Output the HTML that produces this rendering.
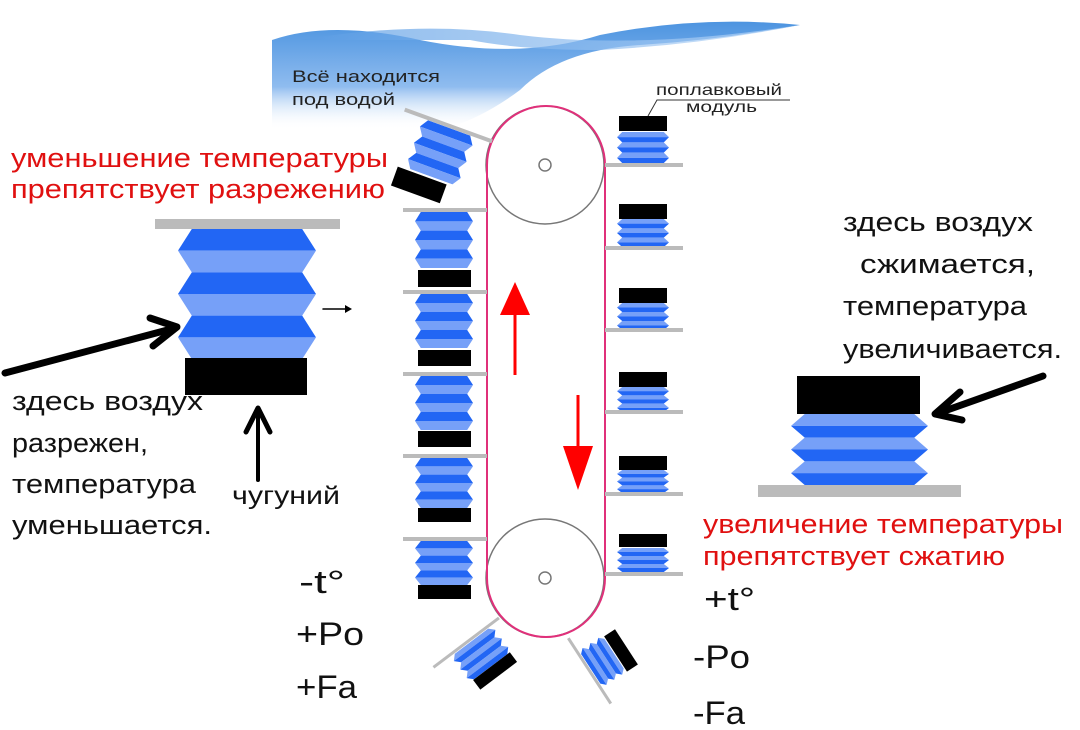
<!DOCTYPE html>
<html><head><meta charset="utf-8"><style>
body{margin:0;background:#fff}
svg{display:block}
text{font-family:"Liberation Sans","DejaVu Sans",sans-serif}
</style></head><body>
<svg width="1080" height="730" viewBox="0 0 1080 730" xmlns="http://www.w3.org/2000/svg">
<defs>
<linearGradient id="w" x1="0" y1="0" x2="0" y2="1">
<stop offset="0" stop-color="#4d94e0"/><stop offset="0.6" stop-color="#8fbcef"/><stop offset="1" stop-color="#ffffff" stop-opacity="0"/>
</linearGradient>
<linearGradient id="w2" x1="0" y1="0" x2="1" y2="0">
<stop offset="0" stop-color="#5a9ce4"/><stop offset="1" stop-color="#b8d6f7"/>
</linearGradient>
<symbol id="bx" viewBox="0 0 100 90" preserveAspectRatio="none">
<polygon points="10,0 90,0 100,15 0,15" fill="#2266f4"/><polygon points="0,15 100,15 90,30 10,30" fill="#76a0f8"/>
<polygon points="10,30 90,30 100,45 0,45" fill="#2266f4"/><polygon points="0,45 100,45 90,60 10,60" fill="#76a0f8"/>
<polygon points="10,60 90,60 100,75 0,75" fill="#2266f4"/><polygon points="0,75 100,75 90,90 10,90" fill="#76a0f8"/>
</symbol>
<symbol id="bc" viewBox="0 0 100 90" preserveAspectRatio="none">
<polygon points="10,0 90,0 100,15 0,15" fill="#76a0f8"/><polygon points="0,15 100,15 90,30 10,30" fill="#2266f4"/>
<polygon points="10,30 90,30 100,45 0,45" fill="#76a0f8"/><polygon points="0,45 100,45 90,60 10,60" fill="#2266f4"/>
<polygon points="10,60 90,60 100,75 0,75" fill="#76a0f8"/><polygon points="0,75 100,75 90,90 10,90" fill="#2266f4"/>
</symbol>
</defs>

<!-- water -->
<path d="M272,40 Q330,20 420,40 Q520,60 600,35 Q700,15 800,25 Q720,40 640,45 Q560,50 520,90 Q480,120 440,130 L272,130 Z" fill="url(#w)"/>
<path d="M300,40 Q420,20 520,35 Q640,50 800,25 Q700,45 600,50 Q520,50 470,40 Z" fill="url(#w2)" opacity="0.7"/>
<text x="292" y="82" font-size="17" fill="#222" textLength="148" lengthAdjust="spacingAndGlyphs">Всё находится</text>
<text x="292" y="105" font-size="17" fill="#222" textLength="103" lengthAdjust="spacingAndGlyphs">под водой</text>
<text x="656" y="95" font-size="16" fill="#222" textLength="126" lengthAdjust="spacingAndGlyphs">поплавковый</text>
<text x="686" y="112" font-size="16" fill="#222" textLength="71" lengthAdjust="spacingAndGlyphs">модуль</text>
<polyline points="648,116 657,100 790,100" fill="none" stroke="#333" stroke-width="1"/>

<!-- chain -->
<circle cx="545" cy="165" r="59" fill="none" stroke="#777" stroke-width="1.5"/>
<circle cx="545" cy="578" r="59" fill="none" stroke="#777" stroke-width="1.5"/>
<circle cx="545" cy="165" r="6" fill="#fff" stroke="#777" stroke-width="1.5"/>
<circle cx="545" cy="578" r="6" fill="#fff" stroke="#777" stroke-width="1.5"/>
<path d="M487,165 A59,59 0 0 1 605,165 L605,578 A59,59 0 0 1 487,578 Z" fill="none" stroke="#e0307a" stroke-width="2"/>

<!-- red arrows -->
<line x1="515" y1="312" x2="515" y2="375" stroke="#f00" stroke-width="3"/>
<polygon points="515,282 500,315 530,315" fill="#f00"/>
<line x1="578" y1="395" x2="578" y2="450" stroke="#f00" stroke-width="3"/>
<polygon points="578,490 563,446 593,446" fill="#f00"/>

<!-- left column modules -->
<g fill="#000">
<line x1="403" y1="210" x2="487" y2="210" stroke="#bbb" stroke-width="4"/>
<use href="#bx" x="415" y="212" width="58" height="56"/><rect x="418" y="270" width="53" height="17"/>
<line x1="403" y1="292" x2="487" y2="292" stroke="#bbb" stroke-width="4"/>
<use href="#bx" x="415" y="294" width="58" height="54"/><rect x="418" y="350" width="53" height="16"/>
<line x1="403" y1="374" x2="487" y2="374" stroke="#bbb" stroke-width="4"/>
<use href="#bx" x="415" y="376" width="58" height="54"/><rect x="418" y="431" width="53" height="16"/>
<line x1="403" y1="456" x2="487" y2="456" stroke="#bbb" stroke-width="4"/>
<use href="#bx" x="415" y="458" width="58" height="50"/><rect x="418" y="508" width="53" height="14"/>
<line x1="403" y1="539" x2="487" y2="539" stroke="#bbb" stroke-width="4"/>
<use href="#bx" x="415" y="541" width="58" height="44"/><rect x="418" y="585" width="53" height="14"/>
</g>

<!-- right column modules -->
<g fill="#000">
<rect x="619" y="116" width="48" height="15"/><use href="#bc" x="617" y="132" width="52" height="31"/>
<line x1="605" y1="165" x2="683" y2="165" stroke="#bbb" stroke-width="4"/>
<rect x="619" y="204" width="48" height="15"/><use href="#bc" x="617" y="219" width="52" height="28"/>
<line x1="605" y1="248" x2="683" y2="248" stroke="#bbb" stroke-width="4"/>
<rect x="619" y="288" width="48" height="15"/><use href="#bc" x="617" y="303" width="52" height="27"/>
<line x1="605" y1="330" x2="683" y2="330" stroke="#bbb" stroke-width="4"/>
<rect x="619" y="372" width="48" height="15"/><use href="#bc" x="617" y="387" width="52" height="25"/>
<line x1="605" y1="412" x2="683" y2="412" stroke="#bbb" stroke-width="4"/>
<rect x="619" y="456" width="48" height="14"/><use href="#bc" x="617" y="470" width="52" height="23"/>
<line x1="605" y1="494" x2="683" y2="494" stroke="#bbb" stroke-width="4"/>
<rect x="619" y="534" width="48" height="13"/><use href="#bc" x="617" y="548" width="52" height="24"/>
<line x1="605" y1="574" x2="683" y2="574" stroke="#bbb" stroke-width="4"/>
</g>

<!-- tilted top-left -->
<g transform="translate(447,125) rotate(20)">
<line x1="-45" y1="0" x2="48" y2="0" stroke="#bbb" stroke-width="4"/>
<use href="#bx" x="-25" y="2" width="56" height="52"/>
<rect x="-32" y="56" width="52" height="20" fill="#000"/>
</g>
<!-- tilted bottom-left -->
<g transform="translate(467,642) rotate(-37)">
<line x1="-42" y1="0" x2="40" y2="0" stroke="#bbb" stroke-width="3"/>
<use href="#bc" x="-22" y="2" width="52" height="32"/>
<rect x="-18" y="34" width="46" height="12" fill="#000"/>
</g>
<!-- tilted bottom-right -->
<g transform="translate(589,670) rotate(57)">
<line x1="-38" y1="0" x2="40" y2="0" stroke="#bbb" stroke-width="3"/>
<use href="#bc" x="-22" y="-30" width="44" height="28"/>
<rect x="-20" y="-44" width="42" height="13" fill="#000"/>
</g>

<!-- left big module -->
<rect x="155" y="219" width="185" height="10" fill="#bbb"/>
<use href="#bx" x="178" y="229" width="138" height="130"/>
<rect x="185" y="358" width="122" height="37" fill="#000"/>

<!-- right big module -->
<rect x="797" y="376" width="123" height="38" fill="#000"/>
<use href="#bc" x="791" y="414" width="137" height="71"/>
<rect x="758" y="485" width="203" height="12" fill="#bbb"/>

<!-- black arrows -->
<g stroke="#000" stroke-linecap="round" stroke-linejoin="round" fill="none">
<line x1="5" y1="373" x2="175" y2="328" stroke-width="7"/>
<polyline points="150,318 177,327 153,346" stroke-width="7"/>
<line x1="1043" y1="376" x2="936" y2="414" stroke-width="7"/>
<polyline points="960,392 935,414 962,420" stroke-width="7"/>
<line x1="258" y1="480" x2="258" y2="410" stroke-width="4"/>
<polyline points="246,432 258,408 270,432" stroke-width="5"/>
<line x1="323" y1="309" x2="347" y2="309" stroke-width="1.5"/>
</g>
<polygon points="352,309 345,305 345,313" fill="#000"/>

<!-- texts -->
<g font-size="27" fill="#e01010">
<text x="11" y="167" textLength="377" lengthAdjust="spacingAndGlyphs">уменьшение температуры</text>
<text x="11" y="198" textLength="374" lengthAdjust="spacingAndGlyphs">препятствует разрежению</text>
<text x="703" y="533" textLength="360" lengthAdjust="spacingAndGlyphs">увеличение температуры</text>
<text x="703" y="565" textLength="302" lengthAdjust="spacingAndGlyphs">препятствует сжатию</text>
</g>
<g font-size="27" fill="#111">
<text x="843" y="231" textLength="190" lengthAdjust="spacingAndGlyphs">здесь воздух</text>
<text x="860" y="273" textLength="175" lengthAdjust="spacingAndGlyphs">сжимается,</text>
<text x="843" y="315" textLength="184" lengthAdjust="spacingAndGlyphs">температура</text>
<text x="843" y="358" textLength="219" lengthAdjust="spacingAndGlyphs">увеличивается.</text>
<text x="12" y="410" textLength="191" lengthAdjust="spacingAndGlyphs">здесь воздух</text>
<text x="12" y="452" textLength="136" lengthAdjust="spacingAndGlyphs">разрежен,</text>
<text x="12" y="493" textLength="184" lengthAdjust="spacingAndGlyphs">температура</text>
<text x="12" y="534" textLength="200" lengthAdjust="spacingAndGlyphs">уменьшается.</text>
<text x="232" y="504" font-size="25" textLength="108" lengthAdjust="spacingAndGlyphs">чугуний</text>
</g>
<g font-size="32" fill="#111">
<text x="299" y="593" textLength="46" lengthAdjust="spacingAndGlyphs">-t°</text>
<text x="296" y="645" textLength="68" lengthAdjust="spacingAndGlyphs">+Po</text>
<text x="296" y="698" textLength="61" lengthAdjust="spacingAndGlyphs">+Fa</text>
<text x="704" y="610" textLength="51" lengthAdjust="spacingAndGlyphs">+t°</text>
<text x="693" y="668" textLength="57" lengthAdjust="spacingAndGlyphs">-Po</text>
<text x="693" y="724" textLength="52" lengthAdjust="spacingAndGlyphs">-Fa</text>
</g>
</svg>
</body></html>
